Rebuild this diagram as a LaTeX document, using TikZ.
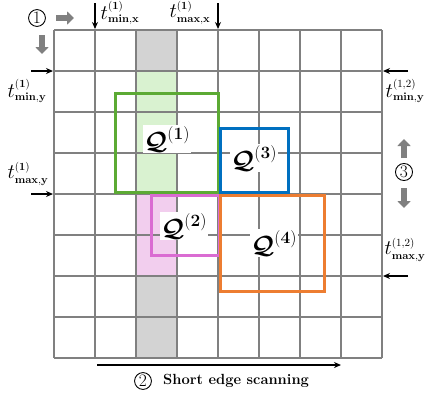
\documentclass[tikz,border=0pt]{standalone}
\usepackage{amsmath,amssymb,bm}
\usetikzlibrary{arrows.meta}
\DeclareMathSizes{20}{20}{11}{8}
\DeclareMathSizes{26}{26}{18.5}{13}
\definecolor{gridgray}{RGB}{128,128,128}
\definecolor{colgray}{RGB}{211,211,211}
\definecolor{colgreen}{RGB}{217,242,208}
\definecolor{colpink}{RGB}{242,206,238}
\definecolor{qgreen}{RGB}{92,170,52}
\definecolor{qblue}{RGB}{0,112,192}
\definecolor{qpink}{RGB}{218,108,210}
\definecolor{qorange}{RGB}{237,125,49}
\definecolor{arrowgray}{RGB}{128,128,128}
\tikzset{
  gridline/.style={draw=gridgray, line width=1.5pt},
  qbox/.style={line width=3pt},
  qlabel/.style={fill=white, inner sep=1pt, font=\fontsize{26}{30}\selectfont},
  tlabel/.style={inner sep=0pt, font=\fontsize{20}{24}\selectfont},
  tarrow/.style={-{Stealth[length=7pt,width=6pt]}, line width=1.2pt},
  bigarrow/.style={draw=arrowgray, line width=6pt, -{Triangle[length=7pt,width=13pt]}},
  circnum/.style={circle, draw, line width=0.9pt, inner sep=1pt, font=\fontsize{17.5}{20}\selectfont},
}
\begin{document}
\begin{tikzpicture}[x=1pt,y=-1pt]
\useasboundingbox (0,0) rectangle (435,394);
% column fills
\fill[colgray] (136,30) rectangle (177,358);
\fill[colgreen] (136,71) rectangle (177,194);
\fill[colpink] (136,194) rectangle (177,276);
% grid
\foreach \i in {0,...,8} {
  \draw[gridline] (54+41*\i,30) -- (54+41*\i,358);
  \draw[gridline] (54,30+41*\i) -- (382,30+41*\i);
}
% query boxes
\draw[qbox, draw=qgreen] (115,93) rectangle (218,192);
\draw[qbox, draw=qblue] (220,128) rectangle (288,192);
\draw[qbox, draw=qpink] (151,195) rectangle (219,255);
\draw[qbox, draw=qorange] (220,195) rectangle (324,291);
% query labels
\node[qlabel] (q1) at (167,139) {$\bm{\mathcal{Q}}^{(\mathbf{1})}$};
\node[qlabel] (q3) at (254,158) {$\bm{\mathcal{Q}}^{(\mathbf{3})}$};
\node[qlabel] (q2) at (184,226) {$\bm{\mathcal{Q}}^{(\mathbf{2})}$};
\node[qlabel] (q4) at (274,243) {$\bm{\mathcal{Q}}^{(\mathbf{4})}$};
% grid anchor coordinates
\coordinate (gminx) at (95,29);
\coordinate (gmaxx) at (218,29);
\coordinate (gminyl) at (53,71);
\coordinate (gmaxyl) at (53,194);
\coordinate (gminyr) at (383,71);
\coordinate (gmaxyr) at (383,276);
\coordinate (sminx) at (95,3);
\coordinate (smaxx) at (218,3);
\coordinate (sminyl) at (31,71);
\coordinate (smaxyl) at (31,194);
\coordinate (sminyr) at (408,71);
\coordinate (smaxyr) at (408,276);
\draw[tarrow] (sminx) -- (gminx);
\draw[tarrow] (smaxx) -- (gmaxx);
\draw[tarrow] (sminyl) -- (gminyl);
\draw[tarrow] (smaxyl) -- (gmaxyl);
\draw[tarrow] (sminyr) -- (gminyr);
\draw[tarrow] (smaxyr) -- (gmaxyr);
% t labels
\node[tlabel] (tminx) at (120,13) {$t^{(\mathbf{1})}_{\mathbf{min,x}}$};
\node[tlabel] (tmaxx) at (190,13) {$t^{(\mathbf{1})}_{\mathbf{max,x}}$};
\node[tlabel] (tminyl) at (27,91) {$t^{(\mathbf{1})}_{\mathbf{min,y}}$};
\node[tlabel] (tmaxyl) at (28,174) {$t^{(\mathbf{1})}_{\mathbf{max,y}}$};
\node[tlabel] (tminyr) at (405,91) {$t^{(1,2)}_{\mathbf{min,y}}$};
\node[tlabel] (tmaxyr) at (405,250) {$t^{(1,2)}_{\mathbf{max,y}}$};
% circled 1 with gray arrows
\node[circnum] (c1) at (37,18) {1};
\coordinate (a1s) at (56,18);
\coordinate (a1e) at (74,18);
\draw[bigarrow] (a1s) -- (a1e);
\coordinate (a2s) at (42,35);
\coordinate (a2e) at (42,54);
\draw[bigarrow] (a2s) -- (a2e);
% circled 3 with gray arrows
\node[circnum] (c3) at (404,172) {3};
\coordinate (a3s) at (404,158);
\coordinate (a3e) at (404,139);
\draw[bigarrow] (a3s) -- (a3e);
\coordinate (a4s) at (404,188);
\coordinate (a4e) at (404,208);
\draw[bigarrow] (a4s) -- (a4e);
% bottom scanning arrow
\coordinate (bs) at (97,365);
\coordinate (be) at (341,365);
\draw[tarrow] (bs) -- (be);
\node[circnum] (c2) at (143,381) {2};
\node[anchor=west, inner sep=0pt, font=\fontsize{14.7}{17}\selectfont\bfseries] (scan) at (163,381) {Short edge scanning};
\end{tikzpicture}
\end{document}
